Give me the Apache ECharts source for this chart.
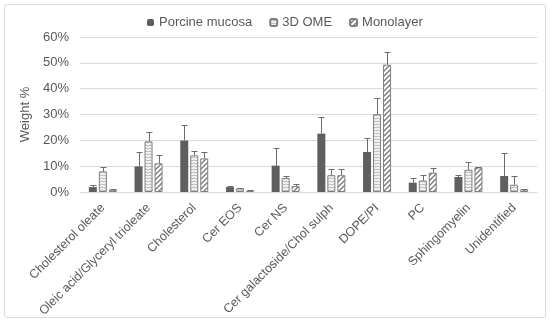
<!DOCTYPE html>
<html><head><meta charset="utf-8">
<script src="https://cdn.jsdelivr.net/npm/echarts@6/dist/echarts.min.js"></script>
<style>html,body{margin:0;padding:0;background:#fff}#frame{position:absolute;left:4px;top:4px;width:540px;height:312px;border:1px solid #d9d9d9;border-radius:3px}#c{position:absolute;left:0;top:0;width:550px;height:322px}</style>
</head><body><div id="frame"></div><div id="c"></div>
<script>
const categories = ['Cholesterol oleate','Oleic acid/Glyceryl trioleate','Cholesterol','Cer EOS','Cer NS','Cer galactoside/Chol sulph','DOPE/PI','PC','Sphingomyelin','Unidentified'];
const seriesNames = ['Porcine mucosa','3D OME','Monolayer'];
const porcine = [1.9, 9.9, 19.9, 1.9, 10.2, 22.6, 15.5, 3.6, 5.8, 6.2];
const porcineErr = [2.6, 15.5, 26.1, 2.5, 16.9, 28.9, 21.0, 5.5, 6.7, 15.2];
const ome = [8.0, 19.6, 14.2, 1.4, 5.4, 6.5, 30.1, 4.4, 8.6, 2.8];
const omeErr = [9.5, 23.4, 15.9, 1.6, 6.2, 9.0, 36.4, 6.5, 11.7, 6.2];
const mono = [0.9, 11.1, 13.0, 0.5, 2.3, 6.5, 49.3, 7.5, 9.5, 1.0];
const monoErr = [1.2, 14.5, 15.5, 0.6, 3.0, 9.0, 54.1, 9.3, 9.7, 1.3];
const yTicks = [0, 10, 20, 30, 40, 50, 60];

function zigzag(){
  const c = document.createElement('canvas'); c.width = 4; c.height = 3;
  const g = c.getContext('2d');
  g.fillStyle = '#fff'; g.fillRect(0,0,4,3);
  g.strokeStyle = '#8c8c8c'; g.lineWidth = 0.8;
  g.beginPath(); g.moveTo(0,2.2); g.lineTo(2,0.8); g.lineTo(4,2.2); g.stroke();
  return c;
}
function stripes(){
  const c = document.createElement('canvas'); c.width = 5; c.height = 5;
  const g = c.getContext('2d');
  g.fillStyle = '#fff'; g.fillRect(0,0,5,5);
  g.strokeStyle = '#7a7a7a'; g.lineWidth = 1.4;
  g.beginPath();
  g.moveTo(-1,6); g.lineTo(6,-1);
  g.moveTo(-1,1); g.lineTo(1,-1);
  g.moveTo(4,6); g.lineTo(6,4);
  g.stroke();
  return c;
}
const chart = echarts.init(document.getElementById('c'));
const textColor = '#595959';
const font = 'Liberation Sans, Arial, sans-serif';
const offsets = [-10, 0, 10];
function errSeries(vals, errs, s){
  return {
    type: 'custom', silent: true, z: 5,
    data: vals.map((v,i)=>[i, v, errs[i]]),
    renderItem: function(params, api){
      const i = api.value(0);
      const p0 = api.coord([i, api.value(1)]);
      const p1 = api.coord([i, api.value(2)]);
      const x = Math.round(p0[0] + offsets[s]) + 0.5;
      const y1 = Math.round(p1[1]) + 0.5;
      const st = {stroke: '#6b6b6b', lineWidth: 1};
      return {type: 'group', children: [
        {type:'line', shape:{x1:x, y1:p0[1], x2:x, y2:y1}, style: st},
        {type:'line', shape:{x1:x-3, y1:y1, x2:x+3, y2:y1}, style: st}
      ]};
    }
  };
}
const barBase = {type:'bar', barWidth: 8, barGap: '25%'};
chart.setOption({
  animation: false,
  textStyle: {fontFamily: font},
  legend: {
    top: 11, left: 142, itemWidth: 7, itemHeight: 7, itemGap: 17,
    textStyle: {fontSize: 13, color: textColor, fontFamily: font},
    data: seriesNames
  },
  grid: {left: 80, right: 13, top: 37, bottom: 130, containLabel: false, outerBoundsMode: 'none'},
  xAxis: {
    type: 'category', data: categories,
    axisLine: {lineStyle: {color: '#d9d9d9'}},
    axisTick: {show: false},
    axisLabel: {rotate: 45, interval: 0, fontSize: 12.5, color: textColor, fontFamily: font, margin: 14}
  },
  yAxis: {
    type: 'value', min: yTicks[0], max: yTicks[yTicks.length-1], interval: 10,
    name: 'Weight %', nameLocation: 'middle', nameGap: 46, nameRotate: 90,
    nameTextStyle: {fontSize: 13, color: textColor, fontFamily: font},
    axisLabel: {formatter: '{value}%', fontSize: 13, color: textColor, fontFamily: font, margin: 11},
    splitLine: {lineStyle: {color: '#d9d9d9'}},
    axisLine: {show: false}, axisTick: {show: false}
  },
  series: [
    Object.assign({}, barBase, {name: seriesNames[0], data: porcine, itemStyle: {color: '#5f5f5f'}}),
    Object.assign({}, barBase, {name: seriesNames[1], data: ome, itemStyle: {color: {image: zigzag(), repeat: 'repeat'}, borderColor: '#7f7f7f', borderWidth: 1}}),
    Object.assign({}, barBase, {name: seriesNames[2], data: mono, itemStyle: {color: {image: stripes(), repeat: 'repeat'}, borderColor: '#7f7f7f', borderWidth: 1}}),
    errSeries(porcine, porcineErr, 0),
    errSeries(ome, omeErr, 1),
    errSeries(mono, monoErr, 2)
  ]
});
</script></body></html>
